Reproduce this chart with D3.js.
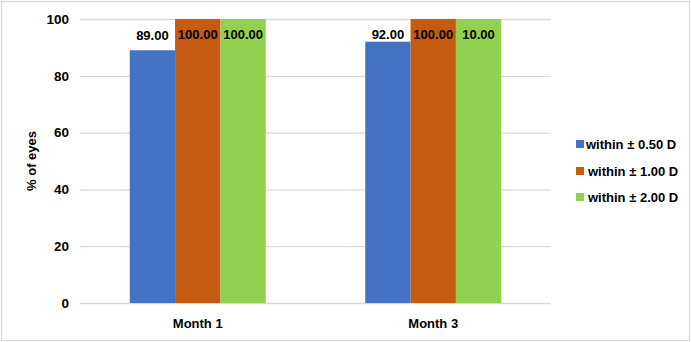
<!DOCTYPE html>
<html>
<head>
<meta charset="utf-8">
<script src="https://cdn.jsdelivr.net/npm/d3@7"></script>
<style>
  body { margin: 0; background: #fff; }
  svg { display: block; font-family: Arial, "Liberation Sans", sans-serif; }
  .grid line { stroke: #d9d9d9; stroke-width: 1.3; }
  text { font-weight: bold; fill: #000; }
</style>
</head>
<body>
<svg class="main" width="691" height="342"></svg>
<script>
const categories = ["Month 1", "Month 3"];
const seriesNames = ["within \u00b1 0.50 D", "within \u00b1 1.00 D", "within \u00b1 2.00 D"];
const seriesColors = ["#4472c4", "#c55a11", "#92d050"];
const within050 = [89, 92];
const within100 = [100, 100];
const within200 = [100, 100];
// labels as printed in the source (the last one really reads 10.00)
const labels050 = ["89.00", "92.00"];
const labels100 = ["100.00", "100.00"];
const labels200 = ["100.00", "10.00"];
const yTicks = [0, 20, 40, 60, 80, 100];

const series = [
  { name: seriesNames[0], color: seriesColors[0], values: within050, labels: labels050 },
  { name: seriesNames[1], color: seriesColors[1], values: within100, labels: labels100 },
  { name: seriesNames[2], color: seriesColors[2], values: within200, labels: labels200 }
];

const svg = d3.select(".main");
const plot = { left: 80, right: 551, top: 19, bottom: 303 };

// outer border
svg.append("rect")
  .attr("x", 1.5).attr("y", 1.5)
  .attr("width", 688).attr("height", 339)
  .attr("fill", "#fff")
  .attr("stroke", "#d9d9d9")
  .attr("stroke-width", 1.3);

const x0 = d3.scaleBand()
  .domain(categories)
  .range([plot.left, plot.right])
  .paddingInner(0)
  .paddingOuter(0);

const x1 = d3.scaleBand()
  .domain(d3.range(series.length))
  .range([0, 136])
  .padding(0);

const y = d3.scaleLinear().domain([0, 100]).range([plot.bottom, plot.top]);

// gridlines
svg.append("g")
  .attr("class", "grid")
  .attr("transform", `translate(${plot.left},0)`)
  .call(d3.axisLeft(y).tickValues(yTicks).tickSize(-(plot.right - plot.left)).tickFormat(""))
  .call(g => g.select(".domain").remove());

// y tick labels
svg.append("g")
  .selectAll("text")
  .data(yTicks)
  .join("text")
  .attr("x", 69)
  .attr("y", d => y(d))
  .attr("dy", "0.35em")
  .attr("text-anchor", "end")
  .style("font-size", "13.5px")
  .text(d => d);

// y axis title
svg.append("text")
  .attr("transform", `translate(36,${(plot.top + plot.bottom) / 2}) rotate(-90)`)
  .attr("text-anchor", "middle")
  .style("font-size", "13px")
  .text("% of eyes");

// bars
const groups = svg.append("g")
  .selectAll("g")
  .data(categories)
  .join("g")
  .attr("transform", d => `translate(${x0(d) + (x0.bandwidth() - 136) / 2},0)`);

groups.selectAll("rect")
  .data((c, ci) => series.map((s, si) => ({ si, value: s.values[ci], color: s.color })))
  .join("rect")
  .attr("x", d => x1(d.si))
  .attr("width", x1.bandwidth())
  .attr("y", d => y(d.value))
  .attr("height", d => y(0) - y(d.value))
  .attr("fill", d => d.color);

// data labels
groups.selectAll("text")
  .data((c, ci) => series.map((s, si) => ({ si, value: s.values[ci], label: s.labels[ci] })))
  .join("text")
  .attr("x", d => x1(d.si) + x1.bandwidth() / 2)
  .attr("y", d => Math.max(y(d.value) - 15, y(100) + 15))
  .attr("dy", "0.35em")
  .attr("text-anchor", "middle")
  .style("font-size", "13px")
  .text(d => d.label);

// x labels
svg.append("g")
  .selectAll("text")
  .data(categories)
  .join("text")
  .attr("x", d => x0(d) + x0.bandwidth() / 2)
  .attr("y", 323)
  .attr("dy", "0.35em")
  .attr("text-anchor", "middle")
  .style("font-size", "13px")
  .text(d => d);

// legend
const legendY = [144, 171, 197];
const legendTextX = [586, 588, 588];
const legend = svg.append("g")
  .selectAll("g")
  .data(series)
  .join("g")
  .attr("transform", (d, i) => `translate(0,${legendY[i]})`);

legend.append("rect")
  .attr("x", 576).attr("y", -4)
  .attr("width", 8).attr("height", 8)
  .attr("fill", d => d.color);

legend.append("text")
  .attr("x", (d, i) => legendTextX[i])
  .attr("dy", "0.35em")
  .style("font-size", "13px")
  .text(d => d.name);
</script>
</body>
</html>
